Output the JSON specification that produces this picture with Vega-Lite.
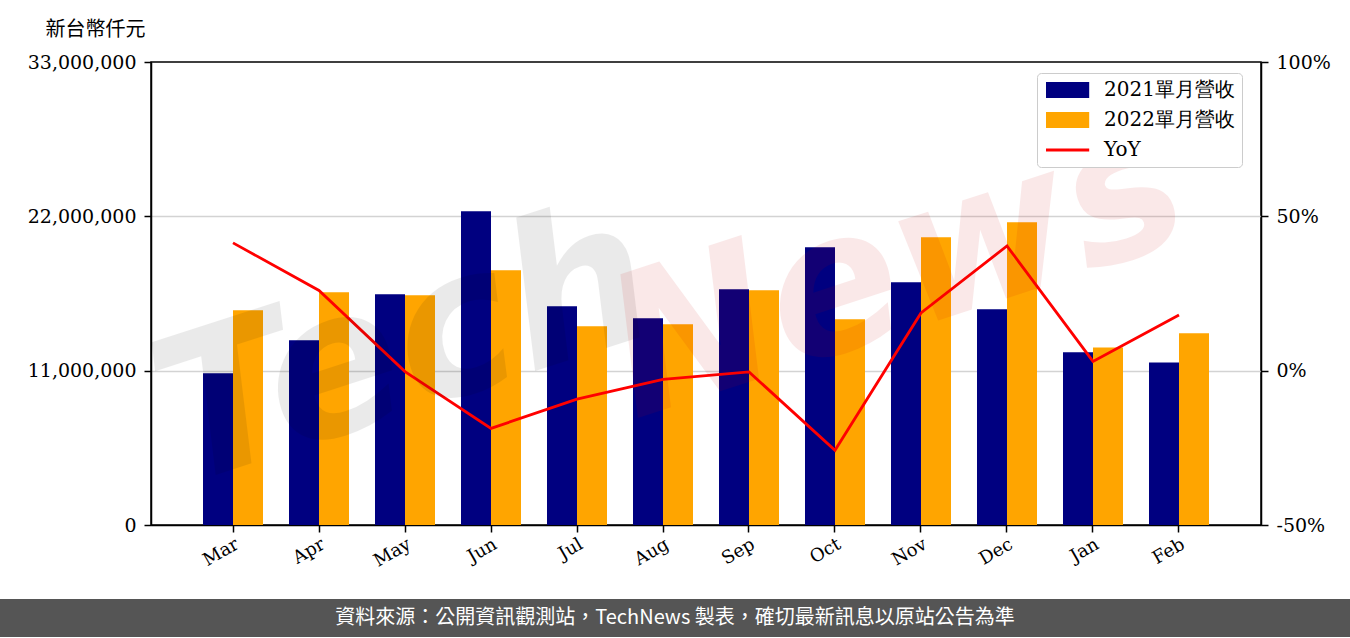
{
  "$schema": "https://vega.github.io/schema/vega-lite/v6.json",
  "background": "white",
  "padding": {"left": 0, "top": 18, "right": 0, "bottom": 0},
  "bounds": "full",
  "columns": 1,
  "spacing": 27,
  "config": {
    "font": "DejaVu Serif",
    "axis": {
      "labelFont": "DejaVu Serif",
      "labelFontSize": 19,
      "labelColor": "#000000",
      "domainColor": "#000000",
      "tickColor": "#000000",
      "domainWidth": 1.5,
      "tickWidth": 1.5,
      "tickSize": 7,
      "labelPadding": 8,
      "grid": false
    },
    "legend": {
      "labelFont": "DejaVu Serif",
      "labelFontSize": 20,
      "labelColor": "#000000"
    }
  },
  "datasets": {
    "revenue": [
      {"month": "Mar", "series": "2021單月營收", "value": 10810000},
      {"month": "Apr", "series": "2021單月營收", "value": 13160000},
      {"month": "May", "series": "2021單月營收", "value": 16450000},
      {"month": "Jun", "series": "2021單月營收", "value": 22370000},
      {"month": "Jul", "series": "2021單月營收", "value": 15590000},
      {"month": "Aug", "series": "2021單月營收", "value": 14730000},
      {"month": "Sep", "series": "2021單月營收", "value": 16800000},
      {"month": "Oct", "series": "2021單月營收", "value": 19800000},
      {"month": "Nov", "series": "2021單月營收", "value": 17300000},
      {"month": "Dec", "series": "2021單月營收", "value": 15380000},
      {"month": "Jan", "series": "2021單月營收", "value": 12310000},
      {"month": "Feb", "series": "2021單月營收", "value": 11590000},
      {"month": "Mar", "series": "2022單月營收", "value": 15300000},
      {"month": "Apr", "series": "2022單月營收", "value": 16590000},
      {"month": "May", "series": "2022單月營收", "value": 16380000},
      {"month": "Jun", "series": "2022單月營收", "value": 18160000},
      {"month": "Jul", "series": "2022單月營收", "value": 14160000},
      {"month": "Aug", "series": "2022單月營收", "value": 14310000},
      {"month": "Sep", "series": "2022單月營收", "value": 16730000},
      {"month": "Oct", "series": "2022單月營收", "value": 14660000},
      {"month": "Nov", "series": "2022單月營收", "value": 20510000},
      {"month": "Dec", "series": "2022單月營收", "value": 21580000},
      {"month": "Jan", "series": "2022單月營收", "value": 12660000},
      {"month": "Feb", "series": "2022單月營收", "value": 13660000}
    ],
    "yoy": [
      {"month": "Mar", "series": "YoY", "yoy": 0.414},
      {"month": "Apr", "series": "YoY", "yoy": 0.260},
      {"month": "May", "series": "YoY", "yoy": -0.003},
      {"month": "Jun", "series": "YoY", "yoy": -0.187},
      {"month": "Jul", "series": "YoY", "yoy": -0.092},
      {"month": "Aug", "series": "YoY", "yoy": -0.028},
      {"month": "Sep", "series": "YoY", "yoy": -0.004},
      {"month": "Oct", "series": "YoY", "yoy": -0.258},
      {"month": "Nov", "series": "YoY", "yoy": 0.187},
      {"month": "Dec", "series": "YoY", "yoy": 0.404},
      {"month": "Jan", "series": "YoY", "yoy": 0.030},
      {"month": "Feb", "series": "YoY", "yoy": 0.180}
    ],
    "watermark": [
      {"word": "Tech", "month": "May", "level": 12450000},
      {"word": "News", "month": "Nov", "level": 18600000}
    ],
    "note": [
      {"note": "資料來源：公開資訊觀測站，TechNews 製表，確切最新訊息以原站公告為準"}
    ]
  },
  "concat": [
    {
      "spacing": 0,
      "bounds": "full",
      "hconcat": [
        {
          "width": 1,
          "height": 463,
          "view": {"stroke": null},
          "data": {"name": "note"},
          "mark": {"type": "text", "opacity": 0},
          "encoding": {"text": {"value": ""}}
        },
        {
          "width": 1110,
          "height": 463,
          "view": {"stroke": "#000000", "strokeWidth": 1.5},
          "layer": [
            {
              "data": {"name": "revenue"},
              "mark": {"type": "bar"},
              "encoding": {
                "x": {
                  "field": "month",
                  "type": "nominal",
                  "scale": {"domain": ["Mar","Apr","May","Jun","Jul","Aug","Sep","Oct","Nov","Dec","Jan","Feb"], "paddingInner": 0, "paddingOuter": 0.4535},
                  "axis": {"title": null, "labelAngle": -30, "labelAlign": "right", "labelBaseline": "top", "labelPadding": 3, "labelDx": -9, "labelFontSize": 18}
                },
                "xOffset": {
                  "field": "series",
                  "type": "nominal",
                  "scale": {"domain": ["2021單月營收","2022單月營收"], "paddingInner": 0, "paddingOuter": 0.4333}
                },
                "y": {
                  "field": "value",
                  "type": "quantitative",
                  "scale": {"domain": [0, 33000000], "nice": false},
                  "axis": {
                    "values": [0, 11000000, 22000000, 33000000],
                    "format": ",d",
                    "grid": true,
                    "gridColor": "#d3d3d3",
                    "gridWidth": 1.5,
                    "gridOpacity": {"condition": {"test": "datum.value === 0 || datum.value === 33000000", "value": 0}, "value": 1},
                    "title": "新台幣仟元",
                    "titleAngle": 0,
                    "titleX": -106,
                    "titleY": -27,
                    "titleAlign": "left",
                    "titleBaseline": "alphabetic",
                    "titleFont": "Noto Sans CJK TC",
                    "titleFontSize": 20,
                    "titleFontWeight": "normal",
                    "titleColor": "#000000",
                    "minExtent": 149,
                    "maxExtent": 149
                  }
                },
                "color": {
                  "field": "series",
                  "type": "nominal",
                  "scale": {"domain": ["2021單月營收","2022單月營收","YoY"], "range": ["#000080","#FFA500","#FF0000"]},
                  "legend": {
                    "title": null,
                    "orient": "none",
                    "legendX": 1037,
                    "legendY": 11,
                    "strokeColor": "#cccccc",
                    "fillColor": "#ffffff",
                    "cornerRadius": 4,
                    "padding": 7,
                    "rowPadding": 10,
                    "symbolSize": 256,
                    "labelOffset": 40,
                    "encode": {
                      "symbols": {
                        "update": {
                          "shape": {"signal": "datum.value === 'YoY' ? 'M-1,-0.19H4.4V0.19H-1Z' : 'M-1,-1H4.4V1H-1Z'"},
                          "fill": {"scale": "color", "field": "value"},
                          "stroke": {"value": "transparent"},
                          "strokeWidth": {"value": 0},
                          "opacity": {"value": 1}
                        }
                      }
                    }
                  }
                }
              }
            },
            {
              "data": {"name": "yoy"},
              "mark": {"type": "line", "strokeWidth": 2.8},
              "encoding": {
                "x": {
                  "field": "month",
                  "type": "nominal",
                  "scale": {"domain": ["Mar","Apr","May","Jun","Jul","Aug","Sep","Oct","Nov","Dec","Jan","Feb"]}
                },
                "y": {
                  "field": "yoy",
                  "type": "quantitative",
                  "scale": {"domain": [-0.5, 1.0], "nice": false},
                  "axis": {"orient": "right", "values": [-0.5, 0, 0.5, 1.0], "labelExpr": "(datum.value < 0 ? '-' : '') + format(abs(datum.value), '.0%')", "title": null, "grid": false}
                },
                "color": {"field": "series", "type": "nominal"}
              }
            },
            {
              "data": {"name": "watermark"},
              "transform": [{"filter": "datum.word === 'Tech'"}],
              "mark": {"type": "text", "font": "DejaVu Sans", "fontStyle": "italic", "fontWeight": "bold", "fontSize": 200, "angle": -18, "color": "#000000", "opacity": 0.08, "align": "center", "baseline": "middle"},
              "encoding": {
                "x": {"field": "month", "type": "nominal", "scale": {"domain": ["Mar","Apr","May","Jun","Jul","Aug","Sep","Oct","Nov","Dec","Jan","Feb"]}},
                "y": {"field": "level", "type": "quantitative", "scale": {"domain": [0, 33000000], "nice": false}, "axis": null},
                "text": {"field": "word"}
              }
            },
            {
              "data": {"name": "watermark"},
              "transform": [{"filter": "datum.word === 'News'"}],
              "mark": {"type": "text", "font": "DejaVu Sans", "fontStyle": "italic", "fontWeight": "bold", "fontSize": 195, "angle": -18, "dx": -25, "color": "#cc0000", "opacity": 0.085, "align": "center", "baseline": "middle"},
              "encoding": {
                "x": {"field": "month", "type": "nominal", "scale": {"domain": ["Mar","Apr","May","Jun","Jul","Aug","Sep","Oct","Nov","Dec","Jan","Feb"]}},
                "y": {"field": "level", "type": "quantitative", "scale": {"domain": [0, 33000000], "nice": false}, "axis": null},
                "text": {"field": "word"}
              }
            }
          ],
          "resolve": {"scale": {"y": "independent"}}
        }
      ]
    },
    {
      "width": 1350,
      "height": 38,
      "view": {"fill": "#555555", "stroke": null},
      "data": {"name": "note"},
      "mark": {"type": "text", "font": "Noto Sans CJK TC", "fontSize": 20, "color": "#ffffff", "align": "center", "baseline": "middle"},
      "encoding": {"text": {"field": "note"}}
    }
  ]
}
